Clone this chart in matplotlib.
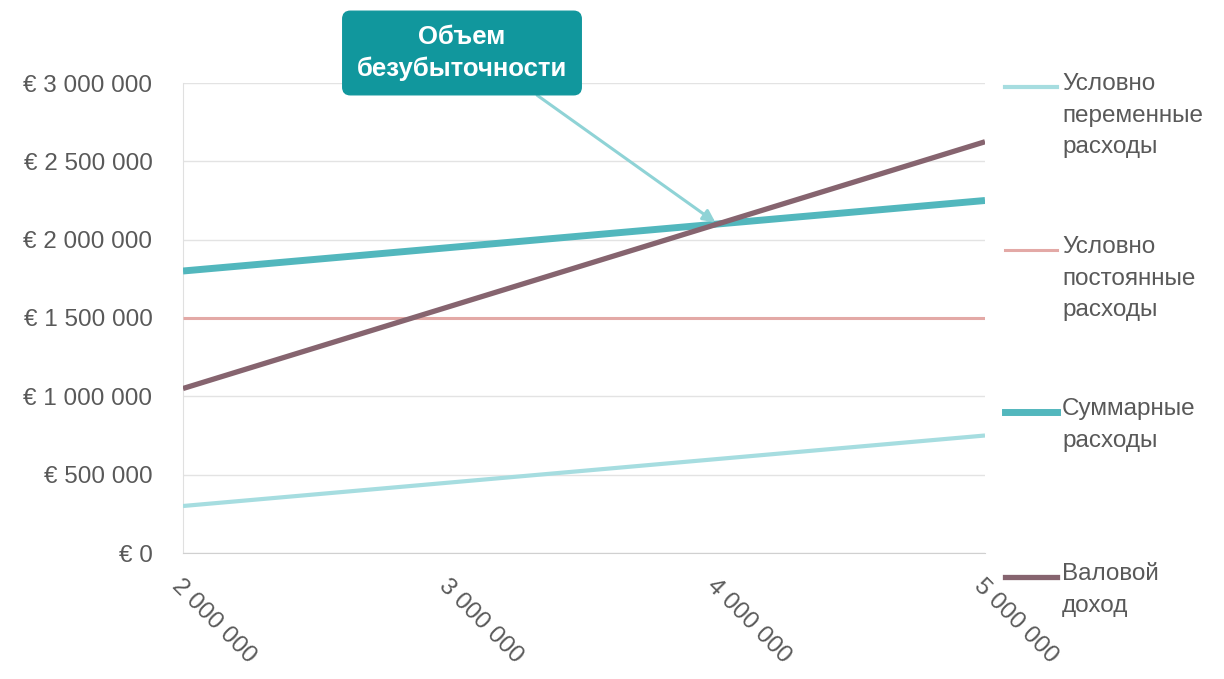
import matplotlib
matplotlib.use("Agg")
import matplotlib.pyplot as plt
from matplotlib.lines import Line2D
from matplotlib.ticker import FuncFormatter

plt.rcParams['font.family'] = ['Liberation Sans', 'DejaVu Sans']

# Volume categories and cost / revenue series (EUR)
volumes = ["2 000 000", "3 000 000", "4 000 000", "5 000 000"]
variable_costs = [300000, 450000, 600000, 750000]
fixed_costs = [1500000, 1500000, 1500000, 1500000]
total_costs = [1800000, 1950000, 2100000, 2250000]
gross_revenue = [1050000, 1575000, 2100000, 2625000]

series_names = [
    "Условно\nпеременные\nрасходы",
    "Условно\nпостоянные\nрасходы",
    "Суммарные\nрасходы",
    "Валовой\nдоход",
]
annotation_text = "Объем\nбезубыточности"

colors = ["#a6dde0", "#e3a9a6", "#52b7bd", "#86646f"]
widths = [3.0, 2.2, 5.0, 3.8]

fig = plt.figure(figsize=(12.24, 6.79), dpi=100)
ax = fig.add_axes([183 / 1224, 1 - 553 / 679, (985 - 183) / 1224, (553 - 83) / 679])

x = list(range(len(volumes)))
data = [variable_costs, fixed_costs, total_costs, gross_revenue]
for vals, c, w in zip(data, colors, widths):
    ax.plot(x, vals, color=c, lw=w, solid_capstyle='butt', zorder=3)

ax.set_xlim(0, len(volumes) - 1)
ax.set_ylim(0, 3000000)
ax.set_yticks(range(0, 3000001, 500000))
ax.yaxis.set_major_formatter(FuncFormatter(
    lambda v, p: "€ " + f"{int(v):,}".replace(",", " ")))
ax.set_xticks(x)
ax.set_xticklabels(volumes, rotation=-45, ha='left', va='top',
                   rotation_mode='anchor')
ax.tick_params(axis='x', length=0, pad=16, labelsize=17.5, labelcolor='#595959')
ax.tick_params(axis='y', length=0, pad=22, labelsize=17.5, labelcolor='#595959')
for lab in ax.get_xticklabels():
    lab.set_x(lab.get_position()[0] - 0.01)

ax.grid(axis='y', color='#e3e3e3', lw=1.0, zorder=0)
for s in ['top', 'right']:
    ax.spines[s].set_visible(False)
ax.spines['left'].set_color('#e0e0e0')
ax.spines['bottom'].set_color('#d0d0d0')

# Break-even callout
ax.annotate(annotation_text, xy=(2, 2100000), xycoords='data',
            xytext=(462 / 1224, 1 - 53 / 679), textcoords='figure fraction',
            ha='center', va='center', color='white', fontsize=18.5,
            fontweight='bold', linespacing=1.35,
            bbox=dict(boxstyle='round,pad=0.55,rounding_size=0.3',
                      fc='#11979d', ec='#11979d'),
            arrowprops=dict(arrowstyle='-|>', color='#8fd3d6', lw=2.2,
                            mutation_scale=18, shrinkA=0, shrinkB=2,
                            relpos=(0.76, 0.0)),
            zorder=5)

# Legend drawn to the right of the plot, entries evenly spread
legend_tops = [87, 250, 412, 577]
for name, c, w, ytop in zip(series_names, colors, widths, legend_tops):
    yf = 1 - ytop / 679
    fig.add_artist(Line2D([1005 / 1224, 1057 / 1224], [yf, yf], color=c,
                          lw=w, transform=fig.transFigure))
    fig.text(1062 / 1224, yf + 0.02, name, ha='left', va='top',
             fontsize=17.5, color='#595959', linespacing=1.55)

fig.savefig("out.png", dpi=100, facecolor='white')
